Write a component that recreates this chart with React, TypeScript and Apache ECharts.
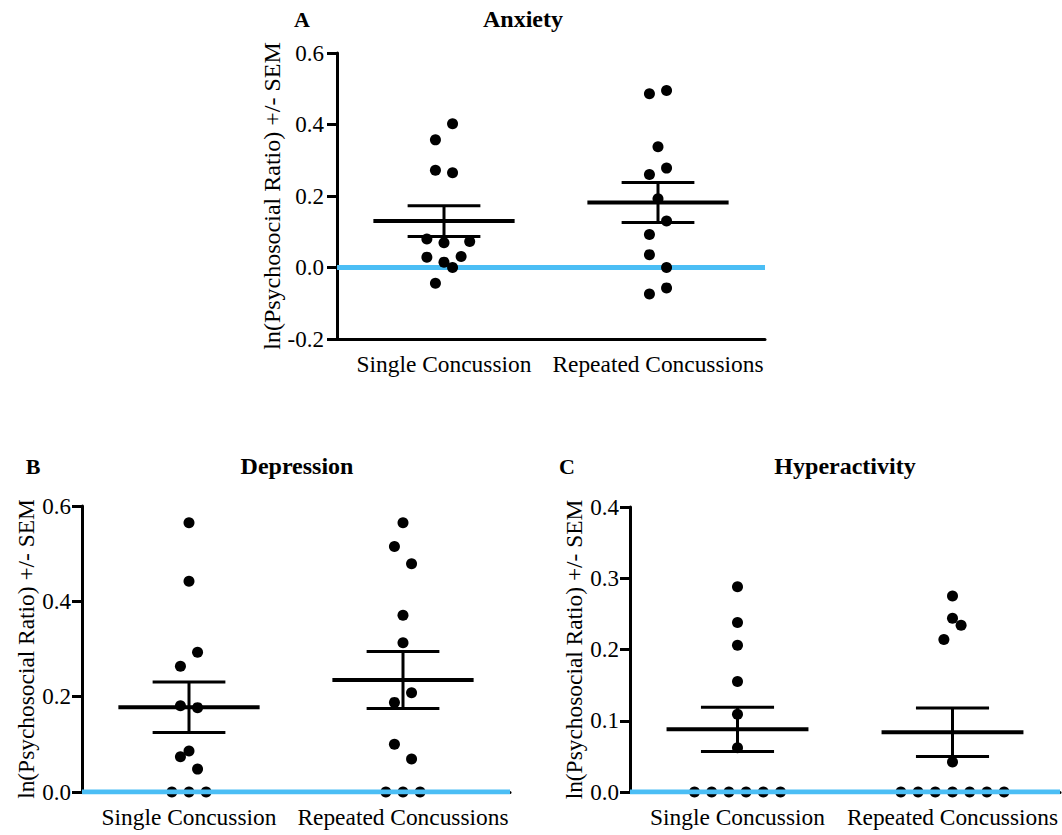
import React, { useEffect, useRef } from "react";
import * as echarts from "echarts";

const categories = ["Single Concussion", "Repeated Concussions"];
const yAxisName = "ln(Psychosocial Ratio) +/- SEM";

// Panel A: Anxiety
const anxietySingle = [0.402, 0.357, 0.272, 0.265, 0.08, 0.069, 0.073, 0.029, 0.031, 0.015, 0.0, -0.044];
const anxietySingleJitter = [0.04, -0.04, -0.04, 0.04, -0.08, 0, 0.12, -0.08, 0.08, 0, 0.04, -0.04];
const anxietyRepeated = [0.495, 0.486, 0.338, 0.278, 0.26, 0.192, 0.13, 0.092, 0.036, 0.0, -0.057, -0.074];
const anxietyRepeatedJitter = [0.04, -0.04, 0, 0.04, -0.04, 0, 0.04, -0.04, -0.04, 0.04, 0.04, -0.04];
const anxietyMean = [0.13, 0.182];
const anxietySem = [0.043, 0.056];

// Panel B: Depression
const depressionSingle = [0.565, 0.442, 0.293, 0.264, 0.181, 0.177, 0.086, 0.074, 0.048, 0, 0, 0];
const depressionSingleJitter = [0, 0, 0.04, -0.04, -0.04, 0.04, 0, -0.04, 0.04, -0.08, 0, 0.08];
const depressionRepeated = [0.565, 0.515, 0.479, 0.371, 0.313, 0.208, 0.188, 0.1, 0.069, 0, 0, 0];
const depressionRepeatedJitter = [0, -0.04, 0.04, 0, 0, 0.04, -0.04, -0.04, 0.04, -0.08, 0, 0.08];
const depressionMean = [0.178, 0.235];
const depressionSem = [0.053, 0.06];

// Panel C: Hyperactivity
const hyperSingle = [0.288, 0.238, 0.206, 0.155, 0.109, 0.062, 0, 0, 0, 0, 0, 0];
const hyperSingleJitter = [0, 0, 0, 0, 0, 0, -0.2, -0.12, -0.04, 0.04, 0.12, 0.2];
const hyperRepeated = [0.275, 0.244, 0.234, 0.214, 0.042, 0, 0, 0, 0, 0, 0, 0];
const hyperRepeatedJitter = [0, 0, 0.04, -0.04, 0, -0.24, -0.16, -0.08, 0, 0.08, 0.16, 0.24];
const hyperMean = [0.088, 0.084];
const hyperSem = [0.031, 0.034];

const FONT = '"Liberation Serif"';
const BLUE = "#4bbef5";

const panels = [
  {
    letter: "A", title: "Anxiety",
    grid: { left: 337, top: 53, width: 428, height: 286 },
    yMin: -0.2, yMax: 0.6, yInterval: 0.2,
    single: anxietySingle, singleJ: anxietySingleJitter,
    repeated: anxietyRepeated, repeatedJ: anxietyRepeatedJitter,
    mean: anxietyMean, sem: anxietySem,
    blueOnTop: false, nameSize: 24, nameGap: 44, labelMargin: 13,
    letterX: 302, titleX: 523, titleY: 19,
  },
  {
    letter: "B", title: "Depression",
    grid: { left: 82, top: 506, width: 428, height: 286 },
    yMin: 0, yMax: 0.6, yInterval: 0.2,
    single: depressionSingle, singleJ: depressionSingleJitter,
    repeated: depressionRepeated, repeatedJ: depressionRepeatedJitter,
    mean: depressionMean, sem: depressionSem,
    blueOnTop: true, nameSize: 23.4, nameGap: 45, labelMargin: 11,
    letterX: 33, titleX: 297, titleY: 466,
  },
  {
    letter: "C", title: "Hyperactivity",
    grid: { left: 630, top: 507, width: 430, height: 285 },
    yMin: 0, yMax: 0.4, yInterval: 0.1,
    single: hyperSingle, singleJ: hyperSingleJitter,
    repeated: hyperRepeated, repeatedJ: hyperRepeatedJitter,
    mean: hyperMean, sem: hyperSem,
    blueOnTop: true, nameSize: 23.4, nameGap: 45, labelMargin: 11,
    letterX: 567, titleX: 845, titleY: 466,
  },
];

function renderErrorBar(params: any, api: any) {
  const c = api.value(0);
  const m = api.value(1);
  const s = api.value(2);
  const p = (x: number, y: number) => api.coord([x, y]);
  const l = (a: number[], b: number[], w: number) => ({
    type: "line",
    shape: { x1: a[0], y1: a[1], x2: b[0], y2: b[1] },
    style: { stroke: "#000", lineWidth: w },
  });
  return {
    type: "group",
    children: [
      l(p(c - 0.33, m), p(c + 0.33, m), 4),
      l(p(c - 0.17, m + s), p(c + 0.17, m + s), 3),
      l(p(c - 0.17, m - s), p(c + 0.17, m - s), 3),
      l(p(c, m - s), p(c, m + s), 3),
    ],
  };
}

function buildOption() {
  const grid: any[] = [];
  const xAxis: any[] = [];
  const yAxis: any[] = [];
  const series: any[] = [];
  const graphic: any[] = [];

  panels.forEach((pn, i) => {
    grid.push({ ...pn.grid, containLabel: false });
    xAxis.push({
      type: "category",
      gridIndex: i,
      data: categories,
      axisLine: { onZero: false, lineStyle: { color: "#000", width: 3 } },
      axisTick: { alignWithLabel: true, length: 10, lineStyle: { color: "#000", width: 3 } },
      axisLabel: { color: "#000", fontSize: 23.4, fontFamily: FONT, margin: 13, interval: 0 },
      splitLine: { show: false },
    });
    xAxis.push({
      type: "value",
      gridIndex: i,
      min: -0.5,
      max: 1.5,
      show: false,
      splitLine: { show: false },
    });
    yAxis.push({
      type: "value",
      gridIndex: i,
      min: pn.yMin,
      max: pn.yMax,
      interval: pn.yInterval,
      axisLine: { show: true, onZero: false, lineStyle: { color: "#000", width: 3 } },
      axisTick: { show: true, length: 10, lineStyle: { color: "#000", width: 3 } },
      axisLabel: {
        color: "#000", fontSize: 23, fontFamily: FONT, margin: pn.labelMargin,
        formatter: (v: number) => v.toFixed(1),
      },
      splitLine: { show: false },
      name: yAxisName,
      nameLocation: "middle",
      nameGap: pn.nameGap,
      nameTextStyle: { color: "#000", fontSize: pn.nameSize, fontFamily: FONT },
    });

    series.push({
      type: "line",
      xAxisIndex: 2 * i + 1,
      yAxisIndex: i,
      data: [[-0.5, 0], [1.5, 0]],
      symbol: "none",
      lineStyle: { color: BLUE, width: 5 },
      z: pn.blueOnTop ? 6 : 1,
      silent: true,
    });
    series.push({
      type: "scatter",
      xAxisIndex: 2 * i + 1,
      yAxisIndex: i,
      data: pn.single.map((v, k) => [0 + pn.singleJ[k], v]),
      symbolSize: 11,
      itemStyle: { color: "#000", opacity: 1 },
      clip: false,
      z: 3,
    });
    series.push({
      type: "scatter",
      xAxisIndex: 2 * i + 1,
      yAxisIndex: i,
      data: pn.repeated.map((v, k) => [1 + pn.repeatedJ[k], v]),
      symbolSize: 11,
      itemStyle: { color: "#000", opacity: 1 },
      clip: false,
      z: 3,
    });
    series.push({
      type: "custom",
      xAxisIndex: 2 * i + 1,
      yAxisIndex: i,
      data: [
        [0, pn.mean[0], pn.sem[0]],
        [1, pn.mean[1], pn.sem[1]],
      ],
      encode: { x: 0, y: 1 },
      renderItem: renderErrorBar,
      clip: false,
      z: 4,
    });

    graphic.push({
      type: "text",
      x: pn.letterX,
      y: pn.titleY,
      style: {
        text: pn.letter,
        font: `bold 22px ${FONT}`,
        fill: "#000",
        textAlign: "center",
        textVerticalAlign: "middle",
        align: "center",
        verticalAlign: "middle",
      },
    });
    graphic.push({
      type: "text",
      x: pn.titleX,
      y: pn.titleY,
      style: {
        text: pn.title,
        font: `bold 24px ${FONT}`,
        fill: "#000",
        textAlign: "center",
        textVerticalAlign: "middle",
        align: "center",
        verticalAlign: "middle",
      },
    });
  });

  return {
    animation: false,
    backgroundColor: "#fff",
    grid,
    xAxis,
    yAxis,
    series,
    graphic,
  };
}

export default function App() {
  const ref = useRef<HTMLDivElement>(null);
  useEffect(() => {
    if (!ref.current) return;
    const chart = echarts.init(ref.current, undefined, { renderer: "svg" });
    chart.setOption(buildOption() as any);
    return () => chart.dispose();
  }, []);
  return (
    <div
      ref={ref}
      style={{ position: "fixed", left: 0, top: 0, width: 1062, height: 835, background: "#fff" }}
    />
  );
}
